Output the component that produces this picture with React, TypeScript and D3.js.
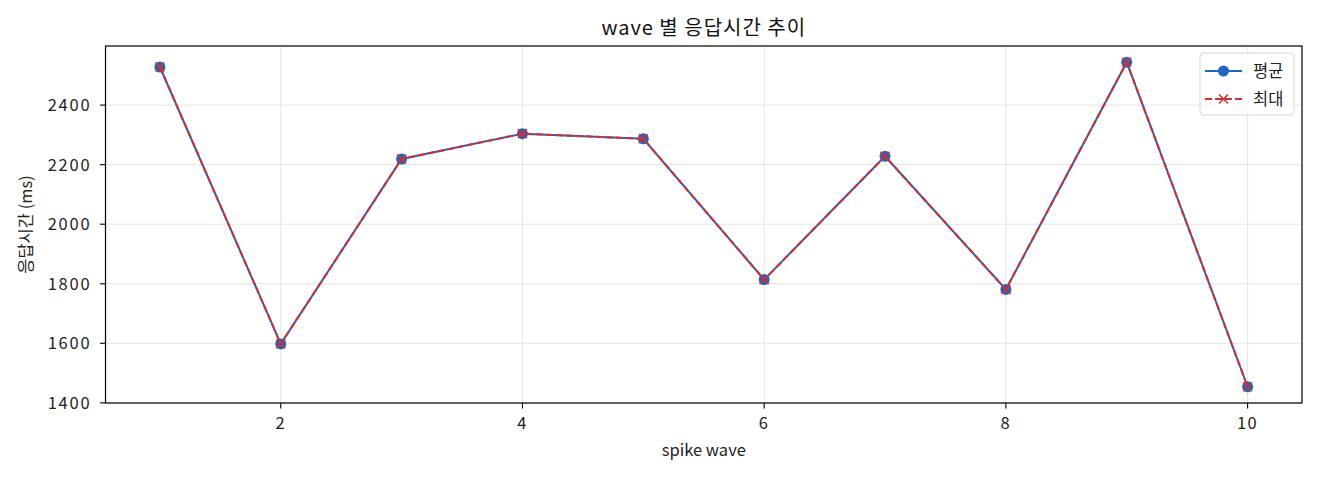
import React from "react";
import * as d3 from "d3";

const waves = [1, 2, 3, 4, 5, 6, 7, 8, 9, 10];
const avgMs = [2528, 1598, 2219, 2304, 2287, 1814, 2228, 1781, 2544, 1454];
const maxMs = [2528, 1598, 2219, 2304, 2287, 1814, 2228, 1781, 2544, 1454];
const xTicks = [2, 4, 6, 8, 10];
const yTicks = [1400, 1600, 1800, 2000, 2200, 2400];

const W = 1320;
const H = 480;
const M = { left: 105.5, right: 1302, top: 46, bottom: 403 };
const FONT = "'Noto Sans CJK KR', 'Noto Sans', sans-serif";
const BLUE = "#1f66c2";
const RED = "#d32f2f";
const FS = 16.5;

export default function App() {
  const x = d3.scaleLinear().domain([0.55, 10.45]).range([M.left, M.right]);
  const lo = d3.min(avgMs.concat(maxMs))!;
  const hi = d3.max(avgMs.concat(maxMs))!;
  const pad = (hi - lo) * 0.05;
  const y = d3.scaleLinear().domain([lo - pad, hi + pad]).range([M.bottom, M.top]);
  const line = d3
    .line<number>()
    .x((_, i) => x(waves[i]))
    .y((d) => y(d));

  return (
    <svg
      width={W}
      height={H}
      style={{ position: "absolute", left: 0, top: 0, background: "#fff" }}
      fontFamily={FONT}
    >
      <rect x={0} y={0} width={W} height={H} fill="#fff" />
      {/* grid */}
      {xTicks.map((t) => (
        <line key={"gx" + t} x1={x(t)} x2={x(t)} y1={M.top} y2={M.bottom} stroke="#e5e5e5" strokeWidth={1} />
      ))}
      {yTicks.map((t) => (
        <line key={"gy" + t} x1={M.left} x2={M.right} y1={y(t)} y2={y(t)} stroke="#e5e5e5" strokeWidth={1} />
      ))}
      {/* lines */}
      <path d={line(avgMs)!} fill="none" stroke={BLUE} strokeWidth={2} />
      {avgMs.map((v, i) => (
        <circle key={"c" + i} cx={x(waves[i])} cy={y(v)} r={5.5} fill={BLUE} />
      ))}
      <path d={line(maxMs)!} fill="none" stroke={RED} strokeWidth={2} strokeDasharray="7,3" />
      {maxMs.map((v, i) => {
        const cx = x(waves[i]);
        const cy = y(v);
        const s = 4.5;
        return (
          <g key={"m" + i} stroke={RED} strokeWidth={1.6}>
            <line x1={cx - s} y1={cy - s} x2={cx + s} y2={cy + s} />
            <line x1={cx - s} y1={cy + s} x2={cx + s} y2={cy - s} />
          </g>
        );
      })}
      {/* frame */}
      <rect x={M.left} y={M.top} width={M.right - M.left} height={M.bottom - M.top} fill="none" stroke="#000" strokeWidth={1.2} />
      {/* x ticks */}
      {xTicks.map((t) => (
        <g key={"xt" + t}>
          <line x1={x(t)} x2={x(t)} y1={M.bottom} y2={M.bottom + 5.5} stroke="#000" strokeWidth={1.1} />
          <text x={x(t)} y={M.bottom + 26} textAnchor="middle" fontSize={FS} fill="#222" letterSpacing={1.5}>
            {t}
          </text>
        </g>
      ))}
      {yTicks.map((t) => (
        <g key={"yt" + t}>
          <line x1={M.left - 5.5} x2={M.left} y1={y(t)} y2={y(t)} stroke="#000" strokeWidth={1.1} />
          <text x={M.left - 14} y={y(t)} dy="0.36em" textAnchor="end" fontSize={FS} fill="#222" letterSpacing={1.8}>
            {t}
          </text>
        </g>
      ))}
      {/* labels */}
      <text x={(M.left + M.right) / 2} y={456} textAnchor="middle" fontSize={FS} fill="#222">
        spike wave
      </text>
      <text
        transform={`translate(32,${(M.top + M.bottom) / 2}) rotate(-90)`}
        textAnchor="middle"
        fontSize={FS}
        fill="#222"
      >
        응답시간 (ms)
      </text>
      <text x={(M.left + M.right) / 2} y={35} textAnchor="middle" fontSize={20} fill="#111" letterSpacing={1}>
        wave 별 응답시간 추이
      </text>
      {/* legend */}
      <g>
        <rect x={1200} y={53} width={94} height={62} rx={3} fill="#fff" fillOpacity={0.8} stroke="#d8d8d8" strokeWidth={1} />
        <line x1={1205} x2={1242} y1={71} y2={71} stroke={BLUE} strokeWidth={2} />
        <circle cx={1223.5} cy={71} r={5.5} fill={BLUE} />
        <text x={1253} y={71} dy="0.36em" fontSize={FS} fill="#222">
          평균
        </text>
        <line x1={1205} x2={1242} y1={99} y2={99} stroke={RED} strokeWidth={2} strokeDasharray="7,3" />
        <g stroke={RED} strokeWidth={1.6}>
          <line x1={1219} y1={94.5} x2={1228} y2={103.5} />
          <line x1={1219} y1={103.5} x2={1228} y2={94.5} />
        </g>
        <text x={1253} y={99} dy="0.36em" fontSize={FS} fill="#222">
          최대
        </text>
      </g>
    </svg>
  );
}
